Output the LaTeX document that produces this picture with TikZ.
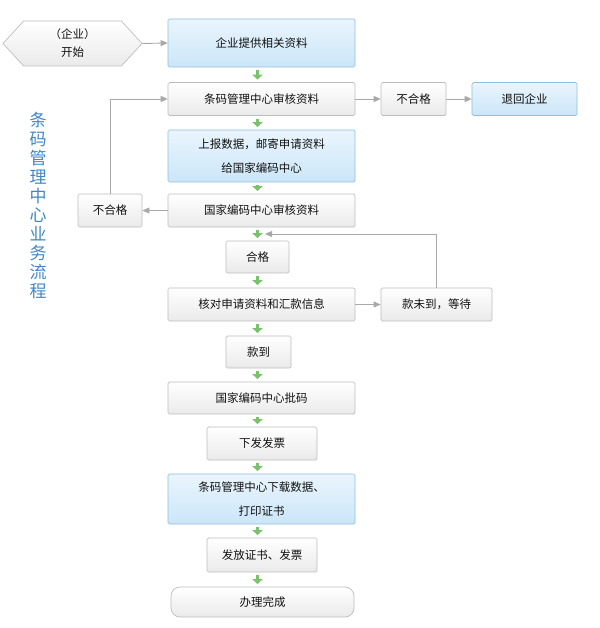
\documentclass[tikz,border=0pt]{standalone}
\usepackage{fontspec}
\setmainfont{Noto Sans CJK SC}
\usetikzlibrary{arrows.meta,shapes.symbols}
\definecolor{bordergray}{HTML}{BDBDBD}
\definecolor{boxtop}{HTML}{FFFFFF}
\definecolor{boxbot}{HTML}{EAEAEA}
\definecolor{bluetop}{HTML}{EAF5FD}
\definecolor{bluebot}{HTML}{CBE6F8}
\definecolor{blueborder}{HTML}{8DBFE2}
\definecolor{linegray}{HTML}{A8A8A8}
\definecolor{garrowc}{HTML}{78C26A}
\definecolor{titleblue}{HTML}{3F86C6}
\definecolor{txt}{HTML}{111111}
\begin{document}
\begin{tikzpicture}[x=1pt,y=-1pt,
  graybox/.style={draw=bordergray, line width=0.7pt, rounded corners=1.5pt,
    top color=boxtop, bottom color=boxbot, text=txt,
    font=\fontsize{11.5}{20}\selectfont, inner sep=0pt, align=center},
  bluebox/.style={graybox, draw=blueborder, top color=bluetop, bottom color=bluebot},
  conn/.style={draw=linegray, line width=0.9pt, -{Triangle[length=7pt,width=6pt]}},
  garrow/.style={draw=garrowc, line width=3.5pt, -{Triangle[length=5pt,width=10pt]},
    shorten <=3pt, shorten >=2.5pt}
]
\useasboundingbox (0,0) rectangle (599,628);

% title
\node[text=titleblue, font=\fontsize{17}{19}\selectfont, align=center, inner sep=0pt]
  (title) at (38,205.5) {条\\码\\管\\理\\中\\心\\业\\务\\流\\程};

% nodes
\node[graybox, sharp corners, signal, signal to=west and east, signal pointer angle=95,
  minimum width=139pt, minimum height=45pt, font=\fontsize{11.5}{18}\selectfont]
  (start) at (72.5,43.5) {（企业）\\开始};
\node[bluebox, minimum width=187pt, minimum height=48pt] (b1) at (261.5,43) {企业提供相关资料};
\node[graybox, minimum width=187pt, minimum height=33pt] (b2) at (261.5,99) {条码管理中心审核资料};
\node[graybox, minimum width=65pt, minimum height=33pt] (nq1) at (413.5,99) {不合格};
\node[bluebox, minimum width=105pt, minimum height=33pt] (back) at (524.5,99) {退回企业};
\node[bluebox, minimum width=187pt, minimum height=52pt, font=\fontsize{11.5}{24}\selectfont]
  (b3) at (261.5,156) {上报数据，邮寄申请资料\\给国家编码中心};
\node[graybox, minimum width=187pt, minimum height=33pt] (b4) at (261.5,210.5) {国家编码中心审核资料};
\node[graybox, minimum width=64pt, minimum height=33pt] (nq2) at (110,210.5) {不合格};
\node[graybox, minimum width=63pt, minimum height=32pt] (ok) at (257.5,257) {合格};
\node[graybox, minimum width=187pt, minimum height=33pt] (b5) at (261.5,304.5) {核对申请资料和汇款信息};
\node[graybox, minimum width=111pt, minimum height=33pt] (wait) at (436.5,304.5) {款未到，等待};
\node[graybox, minimum width=65pt, minimum height=32pt] (paid) at (258.5,352) {款到};
\node[graybox, minimum width=187pt, minimum height=32pt] (b6) at (261.5,398) {国家编码中心批码};
\node[graybox, minimum width=110pt, minimum height=33pt] (inv) at (262,443.5) {下发发票};
\node[bluebox, minimum width=187pt, minimum height=50pt, font=\fontsize{11.5}{24}\selectfont]
  (b7) at (261.5,499) {条码管理中心下载数据、\\打印证书};
\node[graybox, minimum width=110pt, minimum height=34pt] (issue) at (262,555) {发放证书、发票};
\node[graybox, rounded corners=9pt, minimum width=183pt, minimum height=30pt] (done) at (262.5,602) {办理完成};

% gray connectors
\draw[conn] (start.east) -- (b1.west);
\draw[conn] (b2.east) -- (nq1.west);
\draw[conn] (nq1.east) -- (back.west);
\draw[conn] (b4.west) -- (nq2.east);
\draw[conn] (nq2.north) |- (b2.west);
\draw[conn] (b5.east) -- (wait.west);
\coordinate (ret) at (265,234);
\draw[conn] (wait.north) |- (ret);

% green connectors
\coordinate (gx) at (257.5,0);
\foreach \a/\b in {b1/b2,b2/b3,b3/b4,b4/ok,ok/b5,b5/paid,paid/b6,b6/inv,inv/b7,b7/issue,issue/done}
  \draw[garrow] (\a.south -| gx) -- (\b.north -| gx);
\end{tikzpicture}
\end{document}
